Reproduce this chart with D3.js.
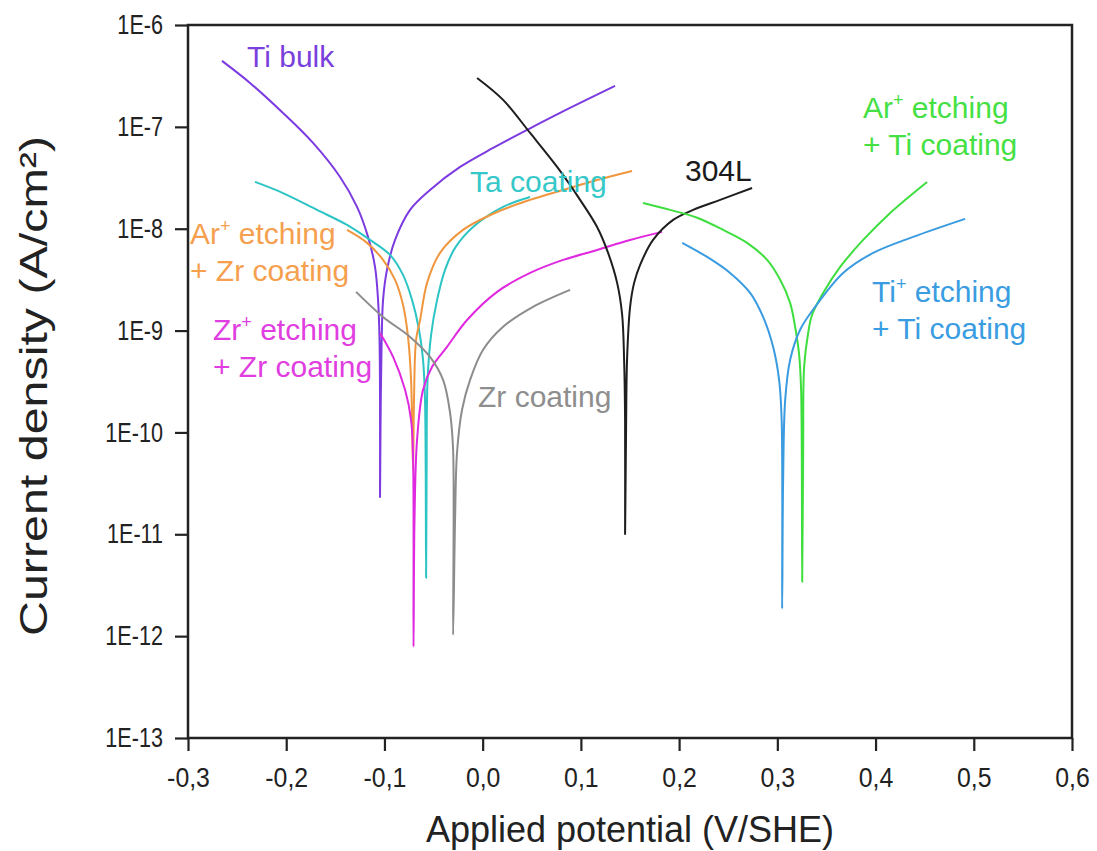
<!DOCTYPE html>
<html><head><meta charset="utf-8">
<script src="https://cdn.jsdelivr.net/npm/d3@7"></script>
<style>
body{margin:0;background:#fff}
text{font-family:"Liberation Sans",Arial,sans-serif}
</style>
</head><body>
<svg id="chart" width="1097" height="851"></svg>
<script>
// ---- data (potential V/SHE, current density A/cm²) ----
const xTicks = [-0.3,-0.2,-0.1,0.0,0.1,0.2,0.3,0.4,0.5,0.6];
const xTickLabels = ["-0,3","-0,2","-0,1","0,0","0,1","0,2","0,3","0,4","0,5","0,6"];
const yTicks = [1e-13,1e-12,1e-11,1e-10,1e-9,1e-8,1e-7,1e-6];
const yTickLabels = ["1E-13","1E-12","1E-11","1E-10","1E-9","1E-8","1E-7","1E-6"];

const tiBulk = [[-0.2654,4.44e-7],[-0.2369,2.70e-7],[-0.2033,1.37e-7],[-0.1727,6.95e-8],[-0.1452,3.22e-8],[-0.1279,1.64e-8],[-0.1167,8.32e-9],[-0.1096,4.22e-9],[-0.1065,2.00e-9],[-0.1050,8.1e-10],[-0.1045,2.09e-10],[-0.1045,2.28e-11],
  [-0.1040,1.06e-10],[-0.1030,6.47e-10],[-0.1014,2.0e-9],[-0.0974,3.95e-9],[-0.0892,7.76e-9],[-0.0739,1.53e-8],[-0.0536,2.40e-8],[-0.0230,4.04e-8],[0.0106,6.21e-8],[0.0452,9.33e-8],[0.0788,1.37e-7],[0.1348,2.52e-7]];
const taCoating = [[-0.2318,2.88e-8],[-0.2033,2.24e-8],[-0.1686,1.53e-8],[-0.1381,1.09e-8],[-0.1147,7.76e-9],[-0.0943,5.53e-9],[-0.0811,3.52e-9],[-0.0719,2.0e-9],[-0.0648,1.02e-9],[-0.0607,5.16e-10],[-0.0587,2.09e-10],[-0.0576,3.74e-12],
  [-0.0571,3.43e-11],[-0.0561,3.28e-10],[-0.0525,9.08e-10],[-0.0464,2.0e-9],[-0.0383,3.95e-9],[-0.0281,6.48e-9],[-0.0098,1.04e-8],[0.0208,1.64e-8],[0.0483,2.05e-8]];
const arZr = [[-0.1381,9.73e-9],[-0.1177,7.26e-9],[-0.1014,4.94e-9],[-0.0892,3.15e-9],[-0.0811,1.79e-9],[-0.0760,8.67e-10],[-0.0729,3.28e-10],[-0.0709,4.3e-11],
  [-0.0699,2.09e-10],[-0.0678,8.1e-10],[-0.0637,1.27e-9],[-0.0566,2.94e-9],[-0.0434,5.79e-9],[-0.0200,9.73e-9],[0.0147,1.46e-8],[0.0483,1.92e-8],[0.0819,2.40e-8],[0.1165,3.01e-8],[0.1521,3.69e-8]];
const zrZr = [[-0.1045,9.48e-10],[-0.0912,5.52e-10],[-0.0790,2.62e-10],[-0.0729,1.33e-10],[-0.0709,6.03e-11],[-0.0704,7.87e-13],
  [-0.0694,1.39e-11],[-0.0668,8.45e-11],[-0.0607,2.62e-10],[-0.0515,4.41e-10],[-0.0363,6.92e-10],[-0.0159,1.27e-9],[0.0147,2.40e-9],[0.0483,3.68e-9],[0.0819,4.94e-9],[0.1165,6.19e-9],[0.1501,7.76e-9],[0.1827,9.31e-9]];
const zrCoating = [[-0.1289,2.40e-9],[-0.1014,1.36e-9],[-0.0739,8.67e-10],[-0.0536,5.52e-10],[-0.0403,3.28e-10],[-0.0332,1.56e-10],[-0.0301,6.75e-11],[-0.0301,1.03e-12],
  [-0.0281,1.39e-11],[-0.0261,6.31e-11],[-0.0210,1.67e-10],[-0.0128,3.28e-10],[0.0004,6.47e-10],[0.0208,1.09e-9],[0.0513,1.71e-9],[0.0890,2.51e-9]];
const ss304L = [[-0.0057,3.02e-7],[0.0208,1.84e-7],[0.0483,8.71e-8],[0.0758,4.04e-8],[0.0992,1.92e-8],[0.1165,1.04e-8],[0.1277,5.79e-9],[0.1369,2.94e-9],[0.1420,1.43e-9],[0.1440,5.16e-10],[0.1450,1.33e-10],[0.1450,9.9e-12],
  [0.1460,1.06e-10],[0.1470,5.16e-10],[0.1501,1.71e-9],[0.1542,2.94e-9],[0.1603,4.42e-9],[0.1735,7.76e-9],[0.1939,1.22e-8],[0.2143,1.53e-8],[0.2418,1.92e-8],[0.2743,2.51e-8]];
const arTi = [[0.1633,1.79e-8],[0.1908,1.53e-8],[0.2183,1.28e-8],[0.2448,9.73e-9],[0.2692,7.26e-9],[0.2896,4.94e-9],[0.3029,3.15e-9],[0.3130,1.87e-9],[0.3181,1.09e-9],[0.3222,5.78e-10],[0.3242,2.62e-10],[0.3253,3.42e-12],
  [0.3263,6.75e-11],[0.3273,4.41e-10],[0.3314,9.48e-10],[0.3354,1.43e-9],[0.3466,2.34e-9],[0.3640,4.22e-9],[0.3874,7.76e-9],[0.4149,1.43e-8],[0.4525,2.88e-8]];
const tiTi = [[0.2031,7.26e-9],[0.2285,5.28e-9],[0.2519,3.68e-9],[0.2723,2.34e-9],[0.2855,1.36e-9],[0.2957,6.92e-10],[0.3018,3.28e-10],[0.3044,1.33e-10],[0.3049,1.86e-12],
  [0.3059,3.43e-11],[0.3080,2.09e-10],[0.3130,5.15e-10],[0.3232,1.02e-9],[0.3385,1.71e-9],[0.3670,3.68e-9],[0.3976,5.79e-9],[0.4383,8.32e-9],[0.4912,1.25e-8]];

const seriesNames = ["Ti bulk","Ta coating","Ar+ etching + Zr coating","Zr+ etching + Zr coating","Zr coating","304L","Ar+ etching + Ti coating","Ti+ etching + Ti coating"];
const seriesData = [tiBulk,taCoating,arZr,zrZr,zrCoating,ss304L,arTi,tiTi];
const lineColors = ["#7c3be0","#2cc4c4","#f0963e","#e028e0","#8c8c8c","#1e1e1e","#3ede3e","#3a9be0"];
const textColors = ["#7a40dc","#36c8c8","#f5a04e","#e03ee0","#8e8e8e","#1a1a1a","#44e044","#3a9de2"];

// ---- chart ----
const svg = d3.select("#chart");
const m = {left:188, right:1072, top:25, bottom:738};
const x = d3.scaleLinear().domain([-0.3,0.6]).range([m.left,m.right]);
const y = d3.scaleLog().domain([1e-13,1e-6]).range([m.bottom,m.top]);

const line = d3.line().x(d=>x(d[0])).y(d=>y(d[1])).curve(d3.curveCatmullRom.alpha(0.5));

svg.append("g").selectAll("path").data(seriesData).join("path")
  .attr("d", line).attr("fill","none")
  .attr("stroke",(d,i)=>lineColors[i]).attr("stroke-width",2);

// frame
svg.append("rect").attr("x",m.left).attr("y",m.top)
  .attr("width",m.right-m.left).attr("height",m.bottom-m.top)
  .attr("fill","none").attr("stroke","#222").attr("stroke-width",2.5);

const yAxis = svg.append("g").attr("transform",`translate(${m.left},0)`)
  .call(d3.axisLeft(y).tickValues(yTicks).tickFormat((d,i)=>yTickLabels[i]).tickSize(13).tickPadding(12));
const xAxis = svg.append("g").attr("transform",`translate(0,${m.bottom})`)
  .call(d3.axisBottom(x).tickValues(xTicks).tickFormat((d,i)=>xTickLabels[i]).tickSize(13).tickPadding(17));
[[yAxis,0.8],[xAxis,0.92]].forEach(([g,k])=>{
  g.select(".domain").remove();
  g.selectAll(".tick line").attr("stroke","#222").attr("stroke-width",2.2);
  g.selectAll(".tick text").attr("fill","#222").style("font-size","27px")
    .style("font-family","'Liberation Sans',Arial,sans-serif")
    .each(function(){
      const w = this.getComputedTextLength();
      d3.select(this).attr("textLength", w*k).attr("lengthAdjust","spacingAndGlyphs");
    });
});

// axis titles
svg.append("text").attr("x",630).attr("y",842).attr("text-anchor","middle")
  .attr("fill","#222").style("font-size","36px").text("Applied potential (V/SHE)");
svg.append("text").attr("transform","translate(47,386) rotate(-90)").attr("text-anchor","middle")
  .attr("fill","#222").style("font-size","38px")
  .attr("textLength",500).attr("lengthAdjust","spacingAndGlyphs")
  .text("Current density (A/cm²)");

// curve labels
const labels = [
  {s:0, x:247, y:67, lines:[["Ti bulk"]]},
  {s:1, x:470, y:192, lines:[["Ta coating"]]},
  {s:2, x:190, y:244, lines:[["Ar","+"," etching"],["+ Zr coating"]]},
  {s:3, x:213, y:340, lines:[["Zr","+"," etching"],["+ Zr coating"]]},
  {s:4, x:478, y:407, lines:[["Zr coating"]]},
  {s:5, x:685, y:181, lines:[["304L"]]},
  {s:6, x:863, y:118, lines:[["Ar","+"," etching"],["+ Ti coating"]]},
  {s:7, x:872, y:302, lines:[["Ti","+"," etching"],["+ Ti coating"]]}
];
labels.forEach(L=>{
  L.lines.forEach((parts,li)=>{
    const t = svg.append("text").attr("x",L.x).attr("y",L.y+li*37)
      .attr("fill",textColors[L.s]).style("font-size","30px");
    parts.forEach((p,pi)=>{
      if (parts.length===3 && pi===1) {
        t.append("tspan").attr("dy",-12).style("font-size","18px").text(p);
      } else if (parts.length===3 && pi===2) {
        t.append("tspan").attr("dy",12).text(p);
      } else t.append("tspan").text(p);
    });
  });
});
</script>
</body></html>
